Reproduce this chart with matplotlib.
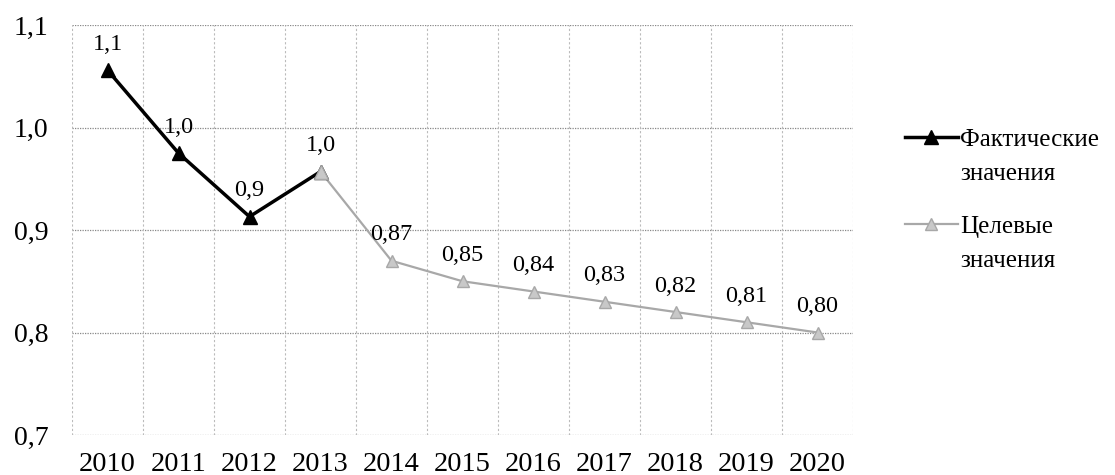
import matplotlib
matplotlib.use("Agg")
import matplotlib.pyplot as plt
import numpy as np

years = ["2010", "2011", "2012", "2013", "2014", "2015", "2016", "2017", "2018", "2019", "2020"]
actual_years = ["2010", "2011", "2012", "2013"]
actual_vals = [1.056, 0.975, 0.913, 0.957]
actual_labels = ["1,1", "1,0", "0,9", ""]
target_years = ["2013", "2014", "2015", "2016", "2017", "2018", "2019", "2020"]
target_vals = [0.957, 0.87, 0.85, 0.84, 0.83, 0.82, 0.81, 0.80]
target_labels = ["1,0", "0,87", "0,85", "0,84", "0,83", "0,82", "0,81", "0,80"]
y_ticks = [0.7, 0.8, 0.9, 1.0, 1.1]
legend_first = ["Фактические", "Целевые"]
legend_second = "значения"

plt.rcParams["font.family"] = ["Liberation Serif", "DejaVu Serif"]

W, H = 1115, 475
fig = plt.figure(figsize=(W / 100, H / 100), dpi=100)
ax = fig.add_axes([72 / W, 40 / H, 781 / W, 410 / H])

xpos = {y: i for i, y in enumerate(years)}
ax_x = [xpos[y] for y in actual_years]
tg_x = [xpos[y] for y in target_years]

gray = "#a8a8a8"
l_tg, = ax.plot(tg_x, target_vals, color=gray, lw=1.6, marker="^", ms=9,
                markerfacecolor="#c8c8c8", markeredgecolor=gray, zorder=3)
l_ac, = ax.plot(ax_x, actual_vals, color="black", lw=2.5, marker="^", ms=10, zorder=4)
# the 2013 point is drawn as a target marker
ax.plot(tg_x[:1], target_vals[:1], ls="none", marker="^", ms=10,
        markerfacecolor="#c8c8c8", markeredgecolor=gray, zorder=5)

for x, v, t in zip(ax_x, actual_vals, actual_labels):
    if t:
        ax.annotate(t, (x, v), xytext=(0, 11), textcoords="offset points",
                    ha="center", va="bottom", fontsize=17.5)
for x, v, t in zip(tg_x, target_vals, target_labels):
    ax.annotate(t, (x, v), xytext=(0, 11), textcoords="offset points",
                ha="center", va="bottom", fontsize=17.5)

ax.set_xlim(-0.5, len(years) - 0.5)
ax.set_ylim(0.7, 1.1)
ax.set_yticks(y_ticks)
ax.set_yticklabels([f"{v:.1f}".replace(".", ",") for v in y_ticks], fontsize=20)
ax.set_xticks(range(len(years)))
ax.set_xticklabels(years, fontsize=20.5)
ax.tick_params(axis="y", length=0, pad=42)
ax.tick_params(axis="x", length=0, pad=12)
for lbl in ax.get_yticklabels():
    lbl.set_horizontalalignment("left")

for v in y_ticks:
    ax.axhline(v, color="#888888", lw=0.9, ls=(0, (1, 1)), zorder=1)
for b in np.arange(-0.5, len(years), 1.0):
    ax.axvline(b, color="#bbbbbb", lw=0.8, ls=(0, (2, 2)), zorder=1)
for s in ax.spines.values():
    s.set_visible(False)

# legend: handle sits beside the first line of each two-line label
leg = fig.legend([l_ac, l_tg], legend_first, loc="upper left",
                 bbox_to_anchor=(895 / W, 1 - 118 / H), frameon=False, fontsize=18,
                 handlelength=2.1, handletextpad=0.1, labelspacing=2.6, borderaxespad=0)
fig.canvas.draw()
for txt in leg.get_texts():
    bb = txt.get_window_extent()
    fig.text(bb.x0 / W, ((bb.y0 + bb.y1) / 2 - 34) / H, legend_second,
             ha="left", va="center", fontsize=18)

fig.savefig("out.png", dpi=100)
